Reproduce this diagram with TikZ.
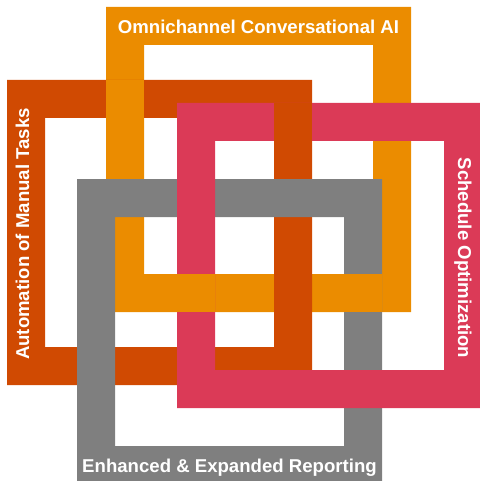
\documentclass[tikz,border=0pt]{standalone}
\usepackage{fontspec}
\setmainfont{Liberation Sans}
\definecolor{omnicol}{HTML}{EB8C00}
\definecolor{taskcol}{HTML}{D04A02}
\definecolor{schedcol}{HTML}{DB3A57}
\definecolor{reportcol}{HTML}{7F7F7F}

\begin{document}
\begin{tikzpicture}[x=1pt,y=-1pt]
\tikzstyle{ring}=[even odd rule]
\tikzstyle{title}=[text=white,inner sep=0pt,anchor=base,font=\bfseries\fontsize{18.6}{20}\selectfont]
\useasboundingbox (0,0) rectangle (479,481);
% the four frames, bottom one first
\fill[ring,omnicol] (106,7) rectangle (411,312) (144,45) rectangle (373,274);
\fill[ring,taskcol] (7,80) rectangle (312,385) (45,118) rectangle (274,347);
\fill[ring,reportcol] (77,179) rectangle (382,484) (115,217) rectangle (344,446);
\fill[ring,schedcol] (177,103) rectangle (482,408) (215,141) rectangle (444,370);
% crossings that go the other way
\fill[omnicol] (106,80) rectangle (144,118);
\fill[omnicol] (177,274) rectangle (215,312);
\fill[omnicol] (344,274) rectangle (382,312);
\fill[taskcol] (274,103) rectangle (312,141);
\node[title] (omni) at (258.5,33.5) {Omnichannel Conversational AI};
\node[title,rotate=90] (tasks) at (29,234) {Automation of Manual Tasks};
\node[title,rotate=-90] (sched) at (458,258) {Schedule Optimization};
\node[title] (report) at (229.5,472) {Enhanced \& Expanded Reporting};
\end{tikzpicture}
\end{document}
